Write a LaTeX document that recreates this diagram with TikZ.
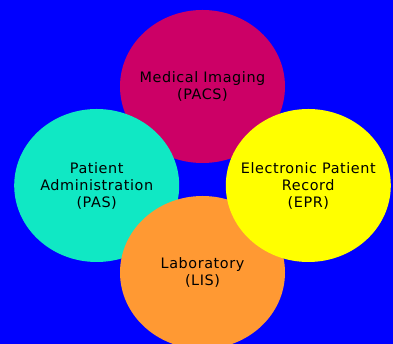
\documentclass[tikz,border=0pt]{standalone}
\usepackage{fontspec}
\setmainfont[LetterSpace=4]{DejaVu Sans}
\usetikzlibrary{shapes.geometric}
\definecolor{bgblue}{RGB}{0,0,255}
\definecolor{pacs}{RGB}{204,0,102}
\definecolor{pas}{RGB}{16,232,196}
\definecolor{lis}{RGB}{255,153,51}
\definecolor{epr}{RGB}{255,255,0}
\tikzset{
  sysblob/.style={ellipse, draw=none, inner sep=0pt,
    minimum width=165pt, minimum height=153pt},
  systext/.style={inner sep=0pt, align=center, text=black,
    font=\fontsize{14.4pt}{17pt}\selectfont}
}
\begin{document}
\begin{tikzpicture}[x=1pt,y=1pt]
  \useasboundingbox (0,0) rectangle (393,344);
  \clip (0,0) rectangle (393,344);
  \fill[bgblue] (0,0) rectangle (393,344);
  \node[sysblob, fill=pacs] (pacs) at (202.5,257.5) {};
  \node[systext] (pacst) at (pacs.center) {Medical Imaging\\(PACS)};
  \node[sysblob, fill=pas] (pas) at (96.7,158.5) {};
  \node[systext] (past) at (pas.center) {Patient\\Administration\\(PAS)};
  \node[sysblob, fill=lis] (lis) at (202.5,71.5) {};
  \node[systext] (list) at (lis.center) {Laboratory\\(LIS)};
  \node[sysblob, fill=epr] (epr) at (308.3,158.5) {};
  \node[systext] (eprt) at (epr.center) {Electronic Patient\\Record\\(EPR)};
\end{tikzpicture}
\end{document}
